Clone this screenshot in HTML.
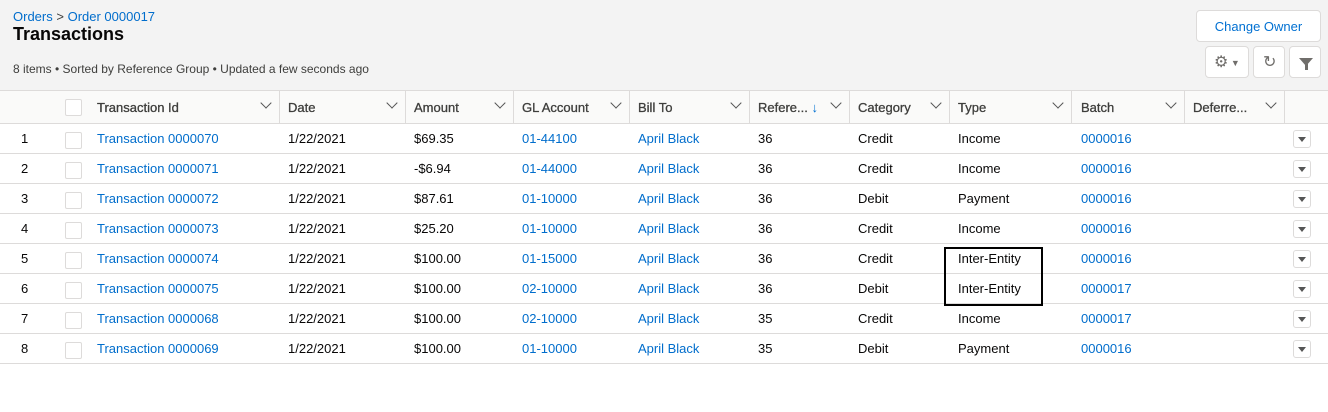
<!DOCTYPE html>
<html><head><style>
body{margin:0;width:1328px;height:412px;background:#fff;font-family:"Liberation Sans",sans-serif;font-size:13px;color:#080707;position:relative;overflow:hidden}
.a{position:absolute;white-space:nowrap}
.hdr{position:absolute;left:0;top:0;width:1328px;height:90px;background:#f3f3f3;border-bottom:1px solid #dddbda}
.blue{color:#006dcc}
.btn{position:absolute;background:#fff;border:1px solid #dddbda;border-radius:4px;box-sizing:border-box}
.th{position:absolute;top:91px;height:32px;background:#fafaf9;border-bottom:1px solid #dddbda;width:1328px;left:0}
.sep{position:absolute;top:91px;width:1px;height:32px;background:#dddbda}
.hl{position:absolute;top:100px;color:#3e3e3c;font-size:13px;-webkit-text-stroke:0.3px #3e3e3c}
.chev{position:absolute;top:99px;width:7px;height:7px;border-right:1.5px solid #555;border-bottom:1.5px solid #555;transform:rotate(45deg)}
.row{position:absolute;left:0;width:1328px;height:30px;border-bottom:1px solid #dddbda}
.cb{position:absolute;width:15px;height:15px;border:1px solid #dddbda;border-radius:2px;background:#fff}
.dd{position:absolute;left:1293px;width:18px;height:18px;border:1px solid #dddbda;border-radius:3px;box-sizing:border-box;background:#fff}
.dd:after{content:"";position:absolute;left:4px;top:6px;border-left:4px solid transparent;border-right:4px solid transparent;border-top:5px solid #555}
</style></head><body>
<div class="hdr"></div>
<div class="a" style="left:13px;top:9px;font-size:13px"><span class="blue">Orders</span> <span style="color:#3e3e3c">&gt;</span> <span class="blue">Order 0000017</span></div>
<div class="a" style="left:13px;top:24px;font-size:18px;font-weight:bold">Transactions</div>
<div class="a" style="left:13px;top:62px;font-size:12px;color:#3e3e3c">8 items • Sorted by Reference Group • Updated a few seconds ago</div>
<div class="btn" style="left:1196px;top:10px;width:125px;height:32px"><div class="a blue" style="left:0;width:123px;text-align:center;top:8px;color:#0070d2">Change Owner</div></div>
<div class="btn" style="left:1205px;top:46px;width:44px;height:32px"><div class="a" style="left:8px;top:5px;font-size:16px;color:#706e6b">⚙<span style="font-size:9px;vertical-align:middle"> ▼</span></div></div>
<div class="btn" style="left:1253px;top:46px;width:32px;height:32px"><div class="a" style="left:9px;top:5px;font-size:16px;color:#706e6b">↻</div></div>
<div class="btn" style="left:1289px;top:46px;width:32px;height:32px"><div class="a" style="left:9px;top:11px;border-left:7px solid transparent;border-right:7px solid transparent;border-top:8px solid #706e6b"></div><div class="a" style="left:15px;top:17px;width:3px;height:6px;background:#706e6b"></div></div>
<div class="th"></div>
<div class="cb" style="left:65px;top:99px"></div>
<div class="hl" style="left:97px">Transaction Id</div><div class="chev" style="left:262px"></div><div class="sep" style="left:279px"></div>
<div class="hl" style="left:288px">Date</div><div class="chev" style="left:388px"></div><div class="sep" style="left:405px"></div>
<div class="hl" style="left:414px">Amount</div><div class="chev" style="left:496px"></div><div class="sep" style="left:513px"></div>
<div class="hl" style="left:522px">GL Account</div><div class="chev" style="left:612px"></div><div class="sep" style="left:629px"></div>
<div class="hl" style="left:638px">Bill To</div><div class="chev" style="left:732px"></div><div class="sep" style="left:749px"></div>
<div class="hl" style="left:758px">Refere... <span style="color:#0070d2;-webkit-text-stroke:0">↓</span></div><div class="chev" style="left:832px"></div><div class="sep" style="left:849px"></div>
<div class="hl" style="left:858px">Category</div><div class="chev" style="left:932px"></div><div class="sep" style="left:949px"></div>
<div class="hl" style="left:958px">Type</div><div class="chev" style="left:1054px"></div><div class="sep" style="left:1071px"></div>
<div class="hl" style="left:1081px">Batch</div><div class="chev" style="left:1167px"></div><div class="sep" style="left:1184px"></div>
<div class="hl" style="left:1193px">Deferre...</div><div class="chev" style="left:1267px"></div><div class="sep" style="left:1284px"></div>
<div id="rows"></div>
<script>
var d=[["Transaction 0000070","$69.35","01-44100","36","Credit","Income","0000016"],
["Transaction 0000071","-$6.94","01-44000","36","Credit","Income","0000016"],
["Transaction 0000072","$87.61","01-10000","36","Debit","Payment","0000016"],
["Transaction 0000073","$25.20","01-10000","36","Credit","Income","0000016"],
["Transaction 0000074","$100.00","01-15000","36","Credit","Inter-Entity","0000016"],
["Transaction 0000075","$100.00","02-10000","36","Debit","Inter-Entity","0000017"],
["Transaction 0000068","$100.00","02-10000","35","Credit","Income","0000017"],
["Transaction 0000069","$100.00","01-10000","35","Debit","Payment","0000016"]];
var h="";
d.forEach(function(r,i){var y=123+i*30,t=y+8;
h+='<div class="row" style="top:'+y+'px"></div>';
h+='<div class="a" style="left:21px;top:'+t+'px">'+(i+1)+'</div>';
h+='<div class="cb" style="left:65px;top:'+(y+9)+'px"></div>';
h+='<div class="a blue" style="left:97px;top:'+t+'px">'+r[0]+'</div>';
h+='<div class="a" style="left:288px;top:'+t+'px">1/22/2021</div>';
h+='<div class="a" style="left:414px;top:'+t+'px">'+r[1]+'</div>';
h+='<div class="a blue" style="left:522px;top:'+t+'px">'+r[2]+'</div>';
h+='<div class="a blue" style="left:638px;top:'+t+'px">April Black</div>';
h+='<div class="a" style="left:758px;top:'+t+'px">'+r[3]+'</div>';
h+='<div class="a" style="left:858px;top:'+t+'px">'+r[4]+'</div>';
h+='<div class="a" style="left:958px;top:'+t+'px">'+r[5]+'</div>';
h+='<div class="a blue" style="left:1081px;top:'+t+'px">'+r[6]+'</div>';
h+='<div class="dd" style="top:'+(y+7)+'px"></div>';});
document.getElementById("rows").innerHTML=h;
</script>
<div class="a" style="left:944px;top:247px;width:95px;height:55px;border:2px solid #000"></div>
</body></html>
